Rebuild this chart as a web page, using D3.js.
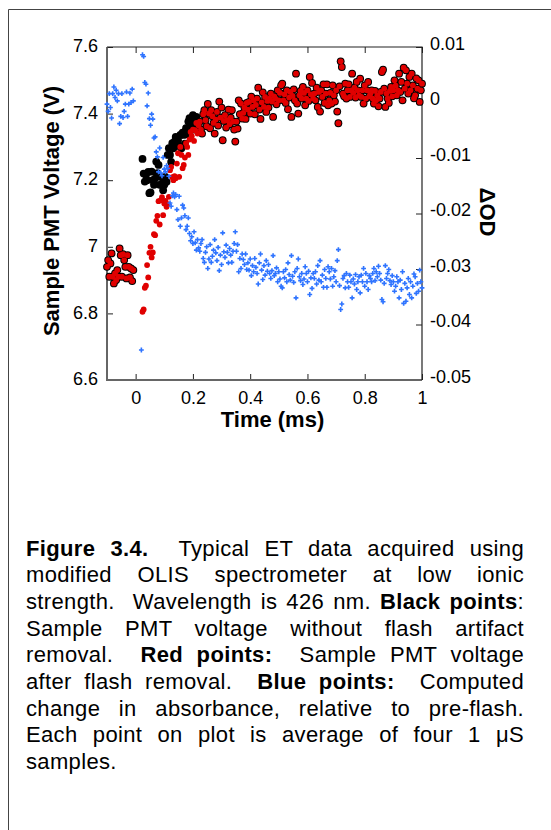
<!DOCTYPE html>
<html lang="en">
<head>
    <meta charset="UTF-8">
    <title>Figure 3.4 ET data</title>
    <script src="https://d3js.org/d3.v7.min.js"></script>
    <style>
        body {
            margin: 0;
            background: #fff;
            font-family: "Liberation Sans", Arial, sans-serif;
        }
        #wrap {
            position: relative;
            width: 551px;
            height: 830px;
        }
        .tick text {
            font-family: "Liberation Sans", Arial, sans-serif;
            font-size: 18px;
            fill: #000;
        }
        .tick line {
            stroke: #222;
        }
        .axis-title {
            font-family: "Liberation Sans", Arial, sans-serif;
            font-size: 22px;
            font-weight: bold;
        }
        .cap-line {
            position: absolute;
            left: 26px;
            width: 498px;
            font-size: 22px;
            letter-spacing: 0.35px;
            line-height: 27px;
            white-space: nowrap;
            text-align: justify;
            text-align-last: justify;
            color: #000;
        }
        .cap-line.last {
            text-align-last: left;
        }
    </style>
</head>
<body>
<div id="wrap"></div>
<script>
// time in ms, 4 us per point
const preT = [-0.1,-0.096,-0.092,-0.088,-0.084,-0.08,-0.076,-0.072,-0.068,-0.064,-0.06,-0.056,-0.052,-0.048,-0.044,-0.04,-0.036,-0.032,-0.028,-0.024,-0.02,-0.016,-0.012,-0.008];
// pre-flash PMT voltage (black and red identical here)
const preV = [6.94,6.96,6.91,6.95,6.98,6.91,6.89,6.92,6.9,6.93,6.91,6.995,6.975,6.91,6.978,6.96,6.94,6.905,6.975,6.94,6.908,6.935,6.897,6.93];
const preOD = [-0.0003,-0.0016,0.0016,-0.0009,-0.0028,0.0016,0.0028,0.0009,0.0022,0.0003,0.0016,-0.0038,-0.0025,0.0016,-0.0027,-0.0016,-0.0003,0.0019,-0.0025,-0.0003,0.0017,0,0.0024,0.0003];

// flash region: black = raw, red = artifact removed
const flashT = [0.02,0.024,0.028,0.032,0.036,0.04,0.044,0.048,0.052,0.056,0.06,
    0.064,0.068,0.072,0.076,0.08,0.084,0.088,0.092,0.096,0.1,
    0.104,0.108,0.112,0.116,0.12,0.124,0.128,0.132,0.136,0.14,
    0.144,0.148,0.152,0.156,0.16,0.164,0.168,0.172,0.176,0.18,
    0.184,0.188,0.192,0.196,0.2,0.204,0.208,0.212,0.216,0.22];
const flashBlackV = [null,7.264,7.22,7.196,7.216,7.2,7.225,7.161,7.163,7.226,7.2,
    7.186,7.205,7.256,7.221,7.246,7.186,7.21,7.19,7.17,7.186,
    7.21,7.195,7.276,7.296,7.276,7.255,7.311,7.296,7.316,7.33,
    7.305,7.32,7.303,7.336,7.296,7.343,7.336,7.31,7.356,7.338,
    7.376,7.386,7.38,7.36,7.395,7.352,7.375,7.39,7.365,7.365];
const flashRedV = [null,6.805,6.812,6.877,6.883,6.945,6.908,6.982,7.0,6.968,6.983,
    7.038,7.035,7.078,7.093,7.137,7.067,7.14,7.149,7.095,7.13,
    7.138,7.12,7.128,7.15,7.23,7.24,7.209,7.2,7.212,7.206,
    7.25,7.281,7.21,7.3,7.276,7.236,7.246,7.268,7.311,7.3,
    7.276,7.322,7.345,7.332,7.352,7.318,7.35,7.372,7.34,7.365];
const flashOD = [-0.0446,0.0086,0.0083,0.0036,0.0033,-0.0006,0.0017,-0.0029,-0.0041,-0.0021,-0.003,
    -0.0064,-0.0062,-0.0089,-0.0098,-0.0125,-0.0082,-0.0127,-0.0132,-0.0099,-0.012,
    -0.0125,-0.0114,-0.0119,-0.0133,-0.0181,-0.0187,-0.0168,-0.0163,-0.017,-0.0166,
    -0.0193,-0.0211,-0.0169,-0.0223,-0.0208,-0.0185,-0.019,-0.0204,-0.0229,-0.0223,
    -0.0208,-0.0236,-0.0249,-0.0242,-0.0254,-0.0233,-0.0253,-0.0266,-0.0247,-0.0262];

// after the flash black and red coincide
const lateT = [0.224,0.228,0.232,0.236,0.24,0.244,0.248,0.252,0.256,0.26,
    0.264,0.268,0.272,0.276,0.28,0.284,0.288,0.292,0.296,0.3,
    0.304,0.308,0.312,0.316,0.32,0.324,0.328,0.332,0.336,0.34,
    0.344,0.348,0.352,0.356,0.36,0.364,0.368,0.372,0.376,0.38,
    0.384,0.388,0.392,0.396,0.4,0.404,0.408,0.412,0.416,0.42,
    0.424,0.428,0.432,0.436,0.44,0.444,0.448,0.452,0.456,0.46,
    0.464,0.468,0.472,0.476,0.48,0.484,0.488,0.492,0.496,0.5,
    0.504,0.508,0.512,0.516,0.52,0.524,0.528,0.532,0.536,0.54,
    0.544,0.548,0.552,0.556,0.56,0.564,0.568,0.572,0.576,0.58,
    0.584,0.588,0.592,0.596,0.6,0.604,0.608,0.612,0.616,0.62,
    0.624,0.628,0.632,0.636,0.64,0.644,0.648,0.652,0.656,0.66,
    0.664,0.668,0.672,0.676,0.68,0.684,0.688,0.692,0.696,0.7,
    0.704,0.708,0.712,0.716,0.72,0.724,0.728,0.732,0.736,0.74,
    0.744,0.748,0.752,0.756,0.76,0.764,0.768,0.772,0.776,0.78,
    0.784,0.788,0.792,0.796,0.8,0.804,0.808,0.812,0.816,0.82,
    0.824,0.828,0.832,0.836,0.84,0.844,0.848,0.852,0.856,0.86,
    0.864,0.868,0.872,0.876,0.88,0.884,0.888,0.892,0.896,0.9,
    0.904,0.908,0.912,0.916,0.92,0.924,0.928,0.932,0.936,0.94,
    0.944,0.948,0.952,0.956,0.96,0.964,0.968,0.972,0.976,0.98,
    0.984,0.988,0.992,0.996,1];
const lateV = [7.376,7.352,7.34,7.398,7.41,7.38,7.362,7.429,7.4,7.356,
    7.41,7.392,7.372,7.34,7.382,7.405,7.364,7.436,7.388,7.418,
    7.32,7.378,7.395,7.358,7.38,7.412,7.368,7.388,7.41,7.376,
    7.352,7.316,7.376,7.355,7.44,7.398,7.43,7.385,7.402,7.418,
    7.384,7.432,7.412,7.435,7.4,7.451,7.42,7.44,7.398,7.426,
    7.445,7.478,7.412,7.384,7.434,7.464,7.42,7.45,7.405,7.438,
    7.418,7.445,7.46,7.436,7.39,7.452,7.445,7.428,7.47,7.44,
    7.462,7.485,7.49,7.44,7.458,7.432,7.47,7.413,7.448,7.465,
    7.39,7.453,7.473,7.44,7.52,7.43,7.4,7.455,7.468,7.445,
    7.48,7.462,7.425,7.445,7.47,7.438,7.51,7.458,7.492,7.445,
    7.46,7.44,7.478,7.42,7.465,7.406,7.47,7.45,7.488,7.432,
    7.46,7.488,7.425,7.44,7.462,7.43,7.485,7.455,7.436,7.47,
    7.406,7.371,7.482,7.557,7.54,7.46,7.452,7.49,7.445,7.47,
    7.488,7.45,7.47,7.52,7.462,7.478,7.448,7.495,7.47,7.455,
    7.505,7.45,7.47,7.43,7.485,7.445,7.47,7.495,7.452,7.46,
    7.47,7.445,7.43,7.468,7.44,7.455,7.422,7.445,7.465,7.525,
    7.532,7.475,7.42,7.46,7.445,7.432,7.468,7.48,7.452,7.47,
    7.5,7.484,7.455,7.47,7.52,7.465,7.495,7.44,7.538,7.475,
    7.53,7.49,7.46,7.51,7.47,7.52,7.485,7.446,7.455,7.506,
    7.475,7.5,7.435,7.47,7.49];
const lateOD = [-0.0268,-0.0254,-0.0247,-0.0281,-0.0288,-0.027,-0.026,-0.0299,-0.0282,-0.0256,
    -0.0288,-0.0277,-0.0266,-0.0247,-0.0271,-0.0285,-0.0261,-0.0303,-0.0275,-0.0292,
    -0.0235,-0.0269,-0.0279,-0.0257,-0.027,-0.0289,-0.0263,-0.0275,-0.0288,-0.0268,
    -0.0254,-0.0233,-0.0268,-0.0256,-0.0305,-0.0281,-0.0299,-0.0273,-0.0283,-0.0292,
    -0.0273,-0.0301,-0.0289,-0.0302,-0.0282,-0.0312,-0.0294,-0.0305,-0.0281,-0.0297,
    -0.0308,-0.0327,-0.0289,-0.0273,-0.0302,-0.0319,-0.0294,-0.0311,-0.0285,-0.0304,
    -0.0292,-0.0308,-0.0317,-0.0303,-0.0276,-0.0312,-0.0308,-0.0298,-0.0323,-0.0305,
    -0.0318,-0.0331,-0.0334,-0.0305,-0.0316,-0.0301,-0.0323,-0.0289,-0.031,-0.032,
    -0.0276,-0.0313,-0.0324,-0.0305,-0.0352,-0.0299,-0.0282,-0.0314,-0.0321,-0.0308,
    -0.0328,-0.0318,-0.0296,-0.0308,-0.0323,-0.0304,-0.0346,-0.0316,-0.0335,-0.0308,
    -0.0317,-0.0305,-0.0327,-0.0294,-0.032,-0.0285,-0.0323,-0.0311,-0.0333,-0.0301,
    -0.0317,-0.0333,-0.0296,-0.0305,-0.0318,-0.0299,-0.0331,-0.0314,-0.0303,-0.0323,
    -0.0285,-0.0265,-0.033,-0.0373,-0.0363,-0.0317,-0.0312,-0.0334,-0.0308,-0.0323,
    -0.0333,-0.0311,-0.0323,-0.0352,-0.0318,-0.0327,-0.031,-0.0337,-0.0323,-0.0314,
    -0.0343,-0.0311,-0.0323,-0.0299,-0.0331,-0.0308,-0.0323,-0.0337,-0.0312,-0.0317,
    -0.0323,-0.0308,-0.0299,-0.0321,-0.0305,-0.0314,-0.0295,-0.0308,-0.032,-0.0355,
    -0.0359,-0.0326,-0.0294,-0.0317,-0.0308,-0.0301,-0.0321,-0.0328,-0.0312,-0.0323,
    -0.034,-0.0331,-0.0314,-0.0323,-0.0352,-0.032,-0.0337,-0.0305,-0.0362,-0.0326,
    -0.0358,-0.0334,-0.0317,-0.0346,-0.0323,-0.0352,-0.0331,-0.0309,-0.0314,-0.0344,
    -0.0326,-0.034,-0.0302,-0.0323,-0.0334];

const xTicks = [0, 0.2, 0.4, 0.6, 0.8, 1];
const xTickLabels = ["0", "0.2", "0.4", "0.6", "0.8", "1"];
const vTicks = [6.6, 6.8, 7, 7.2, 7.4, 7.6];
const vTickLabels = ["6.6", "6.8", "7", "7.2", "7.4", "7.6"];
const odTicks = [-0.05, -0.04, -0.03, -0.02, -0.01, 0, 0.01];
const odTickLabels = ["-0.05", "-0.04", "-0.03", "-0.02", "-0.01", "0", "0.01"];

const captionLines = [
    [["b", "Figure 3.4."], ["", "\u00a0 Typical ET data acquired using"]],
    [["", "modified OLIS spectrometer at low ionic"]],
    [["", "strength.\u00a0 Wavelength is 426 nm. "], ["b", "Black points"], ["", ":"]],
    [["", "Sample PMT voltage without flash artifact"]],
    [["", "removal.\u00a0 "], ["b", "Red points:"], ["", "\u00a0 Sample PMT voltage"]],
    [["", "after flash removal.\u00a0 "], ["b", "Blue points:"], ["", "\u00a0 Computed"]],
    [["", "change in absorbance, relative to pre-flash."]],
    [["", "Each point on plot is average of four 1 \u03bcS"]],
    [["", "samples."]]
];

// build point tables
const toRows = (t, v) => t.map((d, i) => ({t: d, v: v[i]})).filter(d => d.v != null);
const blackPts = toRows(preT, preV).concat(toRows(flashT, flashBlackV), toRows(lateT, lateV));
const redPts = toRows(preT, preV).concat(toRows(flashT, flashRedV), toRows(lateT, lateV));
const bluePts = toRows(preT, preOD).concat(toRows(flashT, flashOD), toRows(lateT, lateOD));

const wrap = d3.select("#wrap");
const svg = wrap.append("svg")
    .attr("width", 551)
    .attr("height", 830);

// page frame
svg.append("path")
    .attr("d", "M8.5,830V9.5H551")
    .attr("fill", "none")
    .attr("stroke", "#444")
    .attr("stroke-width", 1);

const pLeft = 107, pRight = 422, pTop = 47, pBottom = 380;

const x = d3.scaleLinear().domain([-0.1, 1]).range([pLeft, pRight]);
const yV = d3.scaleLinear().domain([6.6, 7.6]).range([pBottom, pTop]);
const yOD = d3.scaleLinear().domain([-0.05, 0.01]).range([pBottom, pTop]);

// axes, ticks pointing inward
const gB = svg.append("g")
    .attr("transform", `translate(0,${pBottom})`)
    .call(d3.axisBottom(x).tickValues(xTicks).tickFormat((d, i) => xTickLabels[i])
        .tickSize(-6).tickSizeOuter(0).tickPadding(11));
const gT = svg.append("g")
    .attr("transform", `translate(0,${pTop})`)
    .call(d3.axisTop(x).tickValues(xTicks).tickFormat("").tickSize(-6).tickSizeOuter(0));
const gL = svg.append("g")
    .attr("transform", `translate(${pLeft},0)`)
    .call(d3.axisLeft(yV).tickValues(vTicks).tickFormat((d, i) => vTickLabels[i])
        .tickSize(-6).tickSizeOuter(0).tickPadding(9));
const gR = svg.append("g")
    .attr("transform", `translate(${pRight},0)`)
    .call(d3.axisRight(yOD).tickValues(odTicks).tickFormat((d, i) => odTickLabels[i])
        .tickSize(-6).tickSizeOuter(0).tickPadding(8));

[gB, gT, gL, gR].forEach(g => g.select(".domain").remove());
gL.selectAll(".tick text").attr("dy", "0.26em");
gR.selectAll(".tick text").attr("dy", "0.13em");

// frame of the plot
svg.append("path")
    .attr("d", `M${pLeft},${pTop}V${pBottom}H${pRight}`)
    .attr("fill", "none")
    .attr("stroke", "#666")
    .attr("stroke-width", 2);
svg.append("path")
    .attr("d", `M${pLeft},${pTop}H${pRight}V${pBottom}`)
    .attr("fill", "none")
    .attr("stroke", "#222")
    .attr("stroke-width", 1.2);

// data points
svg.append("g").selectAll("circle")
    .data(blackPts)
    .enter()
    .append("circle")
    .attr("cx", d => x(d.t))
    .attr("cy", d => yV(d.v))
    .attr("r", 3.9)
    .attr("fill", "#000");

svg.append("g").selectAll("circle")
    .data(redPts)
    .enter()
    .append("circle")
    .attr("cx", d => x(d.t))
    .attr("cy", d => yV(d.v))
    .attr("r", 2.9)
    .attr("fill", "#e00000");

const cross = d3.symbol().type(d3.symbolCross).size(13);
svg.append("g").selectAll("path")
    .data(bluePts)
    .enter()
    .append("path")
    .attr("d", cross)
    .attr("transform", d => `translate(${x(d.t)},${yOD(d.v)})`)
    .attr("fill", "#2f74ff");

// axis titles
svg.append("text")
    .attr("class", "axis-title")
    .attr("x", 272.5)
    .attr("y", 426.5)
    .attr("text-anchor", "middle")
    .text("Time (ms)");

svg.append("text")
    .attr("class", "axis-title")
    .attr("transform", "translate(59,211) rotate(-90)")
    .attr("text-anchor", "middle")
    .text("Sample PMT Voltage (V)");

svg.append("text")
    .attr("class", "axis-title")
    .attr("transform", "translate(480,212) rotate(90)")
    .attr("text-anchor", "middle")
    .text("\u0394OD");

// caption, one justified line per div
captionLines.forEach((parts, i) => {
    const line = wrap.append("div")
        .attr("class", "cap-line" + (i === captionLines.length - 1 ? " last" : ""))
        .style("top", (534.5 + i * 26.7) + "px");
    parts.forEach(p => {
        line.append("span")
            .style("font-weight", p[0] === "b" ? "bold" : "normal")
            .text(p[1]);
    });
});
</script>
</body>
</html>
